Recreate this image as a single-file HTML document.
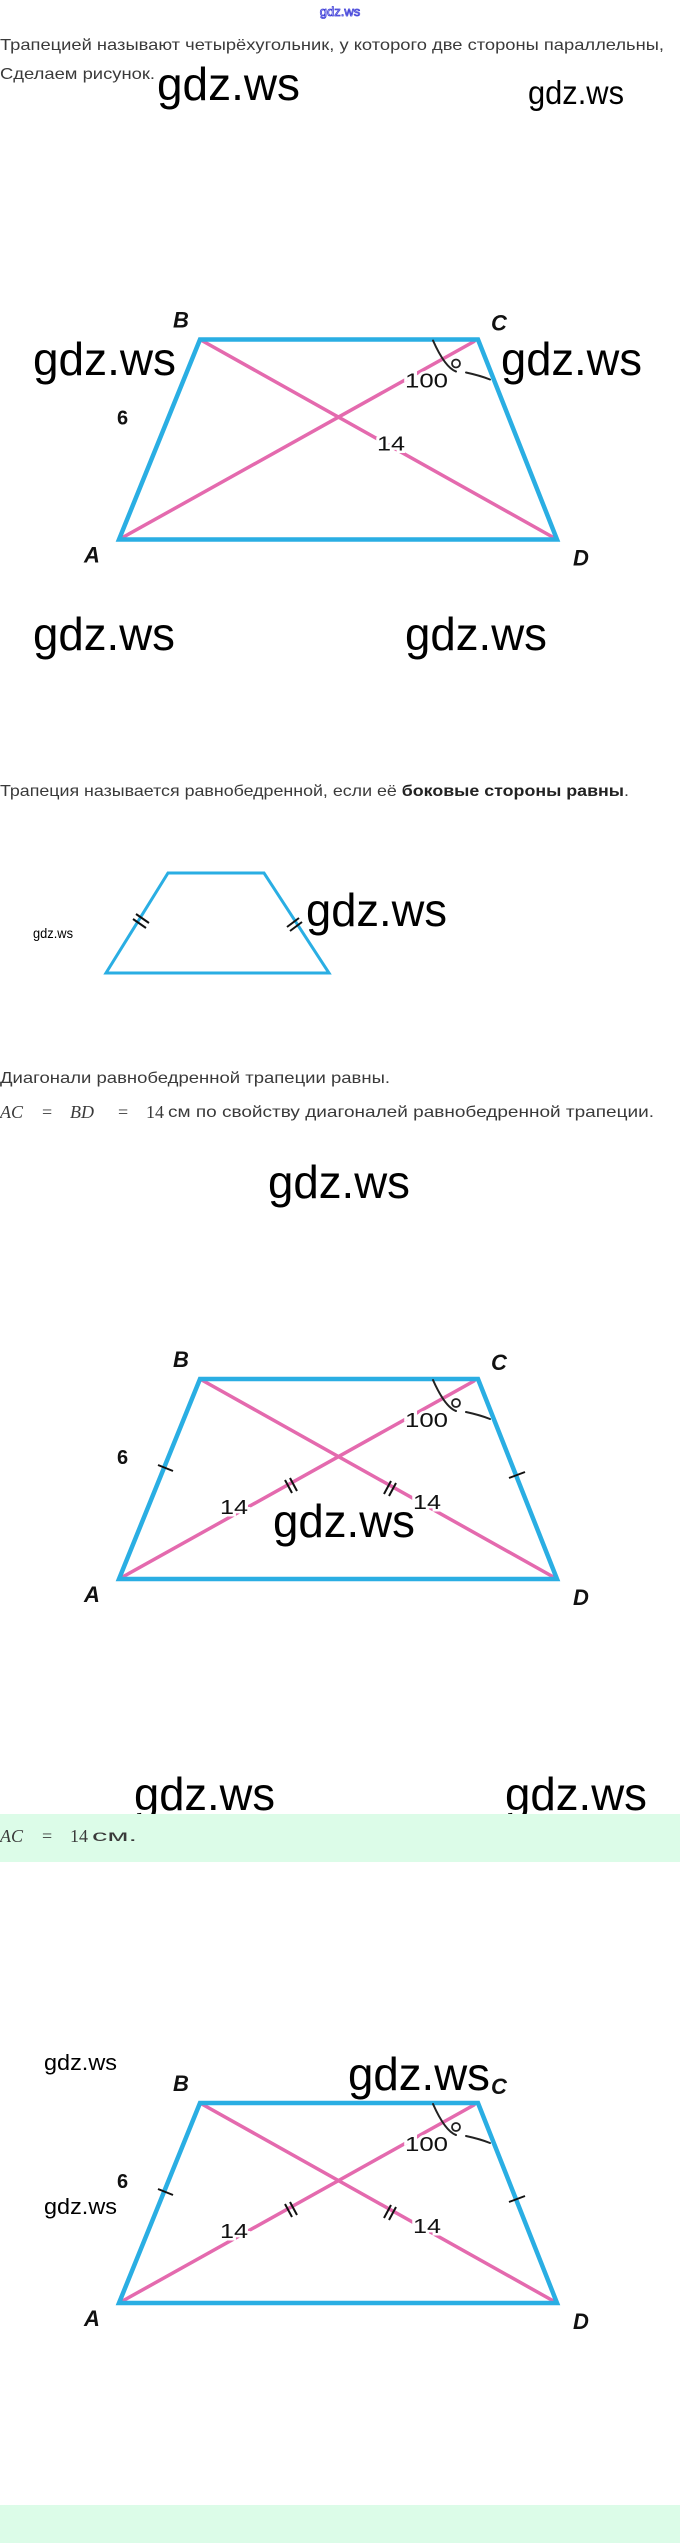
<!DOCTYPE html>
<html><head><meta charset="utf-8">
<style>
html,body{margin:0;padding:0;background:#fff;}
svg{display:block;}
.t{font-family:"Liberation Sans",sans-serif;font-size:16px;fill:#3a3a3a;}
.m{font-family:"Liberation Serif",serif;font-size:18px;fill:#3a3a3a;}
.w{font-family:"Liberation Sans",sans-serif;fill:#000;}
.L{font-family:"Liberation Sans",sans-serif;font-style:italic;font-weight:bold;font-size:22px;fill:#111;}
.n{font-family:"Liberation Sans",sans-serif;font-size:20px;fill:#111;stroke:#fff;stroke-width:5px;paint-order:stroke;}
</style></head>
<body>
<svg width="680" height="2543" viewBox="0 0 680 2543" xmlns="http://www.w3.org/2000/svg">
<defs>
<g id="base" stroke-linecap="round">
  <line x1="200" y1="0" x2="557" y2="200" stroke="#e46aae" stroke-width="3.5"/>
  <line x1="119" y1="200" x2="474" y2="2" stroke="#e46aae" stroke-width="3.5"/>
  <polygon points="200,0 478,0 557,200 119,200" fill="none" stroke="#2aaee3" stroke-width="4.5" stroke-linejoin="miter"/>
  <path d="M433,1 Q445,28 456,32 M466,33 Q480,36 490,40" fill="none" stroke="#222" stroke-width="2"/>
  <circle cx="456" cy="24" r="4" fill="none" stroke="#222" stroke-width="1.8"/>
  <text class="n" x="405" y="48" textLength="43" lengthAdjust="spacingAndGlyphs">100</text>
  <text class="L" x="173" y="-12">B</text>
  <text class="L" x="491" y="-9">C</text>
  <text class="L" x="84" y="223">A</text>
  <text class="L" x="573" y="226">D</text>
  <text class="n" x="117" y="85" style="font-weight:bold">6</text>
</g>
</defs>

<text x="340" y="16" text-anchor="middle" font-family="Liberation Sans,sans-serif" font-size="13" fill="none" stroke="#3b3bd8" stroke-width="0.8">gdz.ws</text>
<text class="t" x="0" y="50" textLength="664" lengthAdjust="spacingAndGlyphs">Трапецией называют четырёхугольник, у которого две стороны параллельны,</text>
<text class="t" x="0" y="79" textLength="155" lengthAdjust="spacingAndGlyphs">Сделаем рисунок.</text>
<text class="w" x="157" y="100" font-size="46" textLength="143" lengthAdjust="spacingAndGlyphs">gdz.ws</text>
<text class="w" x="528" y="104" font-size="33" textLength="96" lengthAdjust="spacingAndGlyphs">gdz.ws</text>

<!-- figure 1 -->
<g transform="translate(0,339.5)">
  <use href="#base"/>
  <text class="n" x="377" y="111" textLength="28" lengthAdjust="spacingAndGlyphs">14</text>
</g>
<text class="w" x="33" y="375" font-size="46" textLength="143" lengthAdjust="spacingAndGlyphs">gdz.ws</text>
<text class="w" x="501" y="375" font-size="46" textLength="141" lengthAdjust="spacingAndGlyphs">gdz.ws</text>
<text class="w" x="33" y="650" font-size="46" textLength="142" lengthAdjust="spacingAndGlyphs">gdz.ws</text>
<text class="w" x="405" y="650" font-size="46" textLength="142" lengthAdjust="spacingAndGlyphs">gdz.ws</text>

<text class="t" x="0" y="796" textLength="629" lengthAdjust="spacingAndGlyphs">Трапеция называется равнобедренной, если её <tspan font-weight="bold" fill="#222">боковые стороны равны</tspan>.</text>

<!-- figure 2 -->
<polygon points="168,873 264,873 329,973 106,973" fill="none" stroke="#2aaee3" stroke-width="3"/>
<g stroke="#111" stroke-width="2">
  <line x1="133" y1="919" x2="146" y2="928"/><line x1="136" y1="914" x2="149" y2="923"/>
  <line x1="287" y1="927" x2="299" y2="918"/><line x1="290" y1="931" x2="302" y2="922"/>
</g>
<text class="w" x="33" y="938" font-size="14" textLength="40" lengthAdjust="spacingAndGlyphs">gdz.ws</text>
<text class="w" x="306" y="926" font-size="46" textLength="141" lengthAdjust="spacingAndGlyphs">gdz.ws</text>

<text class="t" x="0" y="1083" textLength="390" lengthAdjust="spacingAndGlyphs">Диагонали равнобедренной трапеции равны.</text>
<text class="m" x="0" y="1118" font-style="italic">AC</text>
<text class="m" x="42" y="1118">=</text>
<text class="m" x="70" y="1118" font-style="italic">BD</text>
<text class="m" x="118" y="1118">=</text>
<text class="m" x="146" y="1118">14</text>
<text class="t" x="168" y="1117" textLength="486" lengthAdjust="spacingAndGlyphs">см по свойству диагоналей равнобедренной трапеции.</text>
<text class="w" x="268" y="1198" font-size="46" textLength="142" lengthAdjust="spacingAndGlyphs">gdz.ws</text>

<!-- figure 3 -->
<g transform="translate(0,1379)">
  <use href="#base"/>
  <g stroke="#111" stroke-width="2">
    <line x1="158" y1="86" x2="173" y2="92"/>
    <line x1="509" y1="99" x2="525" y2="93"/>
    <line x1="285" y1="101" x2="292" y2="114"/><line x1="290" y1="99" x2="297" y2="112"/>
    <line x1="384" y1="115" x2="391" y2="102"/><line x1="389" y1="117" x2="396" y2="104"/>
  </g>
  <text class="n" x="220" y="135" textLength="28" lengthAdjust="spacingAndGlyphs">14</text>
  <text class="n" x="413" y="130" textLength="28" lengthAdjust="spacingAndGlyphs">14</text>
</g>
<text class="w" x="273" y="1537" font-size="46" textLength="142" lengthAdjust="spacingAndGlyphs">gdz.ws</text>

<text class="w" x="134" y="1810" font-size="46" textLength="141" lengthAdjust="spacingAndGlyphs">gdz.ws</text>
<text class="w" x="505" y="1810" font-size="46" textLength="142" lengthAdjust="spacingAndGlyphs">gdz.ws</text>
<rect x="0" y="1814" width="680" height="48" fill="#dcfce8"/>
<text class="m" x="0" y="1842" font-style="italic">AC</text>
<text class="m" x="42" y="1842">=</text>
<text class="m" x="70" y="1842">14</text>
<text class="t" x="92" y="1841" textLength="45" lengthAdjust="spacingAndGlyphs">см.</text>

<!-- figure 4 -->
<g transform="translate(0,2103)">
  <use href="#base"/>
  <g stroke="#111" stroke-width="2">
    <line x1="158" y1="86" x2="173" y2="92"/>
    <line x1="509" y1="99" x2="525" y2="93"/>
    <line x1="285" y1="101" x2="292" y2="114"/><line x1="290" y1="99" x2="297" y2="112"/>
    <line x1="384" y1="115" x2="391" y2="102"/><line x1="389" y1="117" x2="396" y2="104"/>
  </g>
  <text class="n" x="220" y="135" textLength="28" lengthAdjust="spacingAndGlyphs">14</text>
  <text class="n" x="413" y="130" textLength="28" lengthAdjust="spacingAndGlyphs">14</text>
</g>
<text class="w" x="44" y="2070" font-size="22" textLength="73" lengthAdjust="spacingAndGlyphs">gdz.ws</text>
<text class="w" x="44" y="2214" font-size="22" textLength="73" lengthAdjust="spacingAndGlyphs">gdz.ws</text>
<text class="w" x="348" y="2090" font-size="46" textLength="142" lengthAdjust="spacingAndGlyphs">gdz.ws</text>

<rect x="0" y="2505" width="680" height="38" fill="#dcfce8"/>
</svg>
</body></html>
